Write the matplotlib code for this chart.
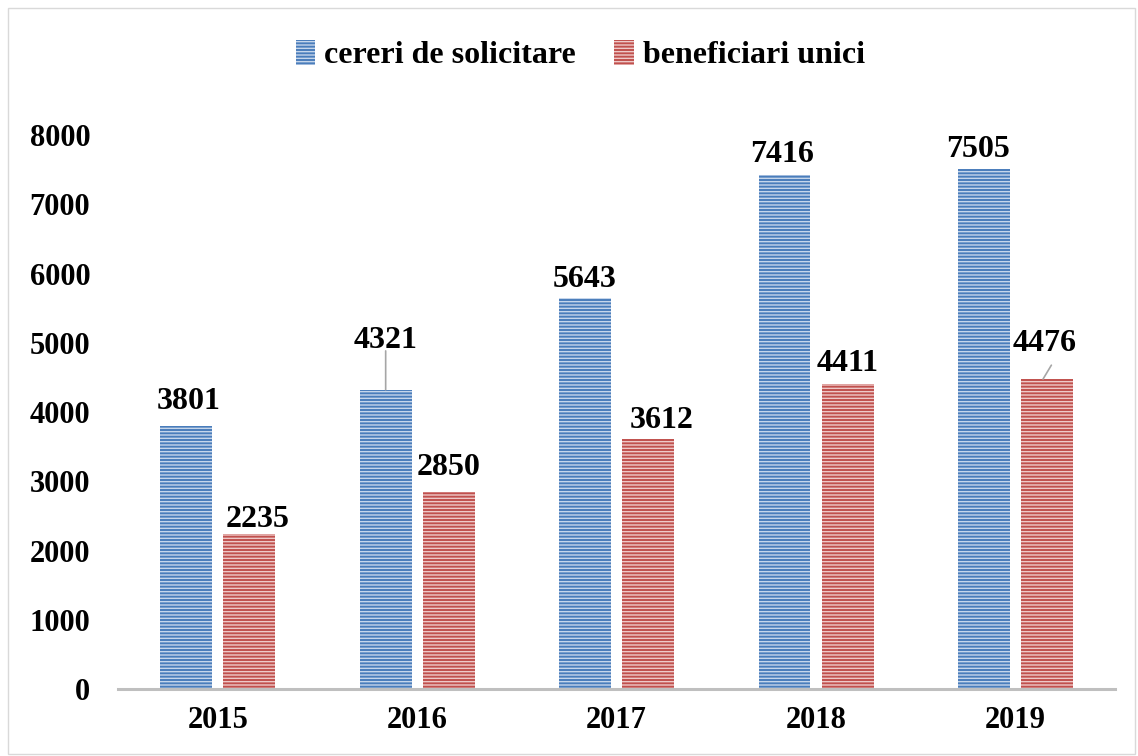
import matplotlib
matplotlib.use("Agg")
from matplotlib import pyplot as plt
from matplotlib.patches import Rectangle
import numpy as np

years = ["2015", "2016", "2017", "2018", "2019"]
cereri = [3801, 4321, 5643, 7416, 7505]
beneficiari = [2235, 2850, 3612, 4411, 4476]
series_names = ["cereri de solicitare", "beneficiari unici"]

plt.rcParams['font.family'] = ['Liberation Serif', 'DejaVu Serif']
plt.rcParams['font.weight'] = 'bold'
plt.rcParams['hatch.linewidth'] = 1.0

fig = plt.figure(figsize=(11.38, 7.56), dpi=100)
ax = fig.add_axes([0.1037, 0.0886, 0.8763, 0.7328])

x = np.arange(len(years))
width = 0.26
off = 0.158
hatch = '-' * 5

b1 = ax.bar(x - off, cereri, width, color='#4a7dbb', edgecolor='#c6d6eb',
            hatch=hatch, linewidth=0, label=series_names[0])
b2 = ax.bar(x + off, beneficiari, width, color='#c0504d', edgecolor='#eec9c8',
            hatch=hatch, linewidth=0, label=series_names[1])

# data labels (offsets in points), a couple with leader lines like the original
blue_offsets = [(2, 12), (0, 30), (0, 8), (-2, 10), (-4, 9)]
red_offsets = [(6, 5), (0, 12), (10, 8), (0, 9), (-2, 20)]
for xi, v, (dx, dy) in zip(x - off, cereri, blue_offsets):
    ax.annotate(str(v), (xi, v), xytext=(dx, dy), textcoords='offset points',
                ha='center', va='baseline', fontsize=23, fontweight='bold')
for xi, v, (dx, dy) in zip(x + off, beneficiari, red_offsets):
    ax.annotate(str(v), (xi, v), xytext=(dx, dy), textcoords='offset points',
                ha='center', va='baseline', fontsize=23, fontweight='bold')

# leader lines
ax.annotate('', (x[1] - off, cereri[1]), xytext=(0, 28), textcoords='offset points',
            arrowprops=dict(arrowstyle='-', color='#a6a6a6', lw=1.2, shrinkA=0, shrinkB=0))
ax.annotate('', (x[4] + off - 0.02, beneficiari[4]), xytext=(6, 10), textcoords='offset points',
            arrowprops=dict(arrowstyle='-', color='#a6a6a6', lw=1.2, shrinkA=0, shrinkB=0))

ax.set_xlim(-0.5, 4.5)
ax.set_ylim(0, 8000)
ax.set_yticks(np.arange(0, 8001, 1000))
ax.set_xticks(x)
ax.set_xticklabels(years)
ax.tick_params(axis='both', length=0, labelsize=22)
ax.tick_params(axis='y', pad=20)
ax.tick_params(axis='x', pad=12)
for s in ['left', 'right', 'top']:
    ax.spines[s].set_visible(False)
ax.spines['bottom'].set_color('#bfbfbf')
ax.spines['bottom'].set_linewidth(2.2)

fig.legend(handles=[b1, b2], loc='upper center', bbox_to_anchor=(0.51, 0.985), ncol=2,
           frameon=False, fontsize=23, handlelength=0.6, handleheight=0.8,
           handletextpad=0.3, columnspacing=1.2)

fig.patches.append(Rectangle((0.007, 0.003), 0.99, 0.986, transform=fig.transFigure,
                             fill=False, edgecolor='#d9d9d9', linewidth=1.0))

fig.savefig('out.png', dpi=100)
